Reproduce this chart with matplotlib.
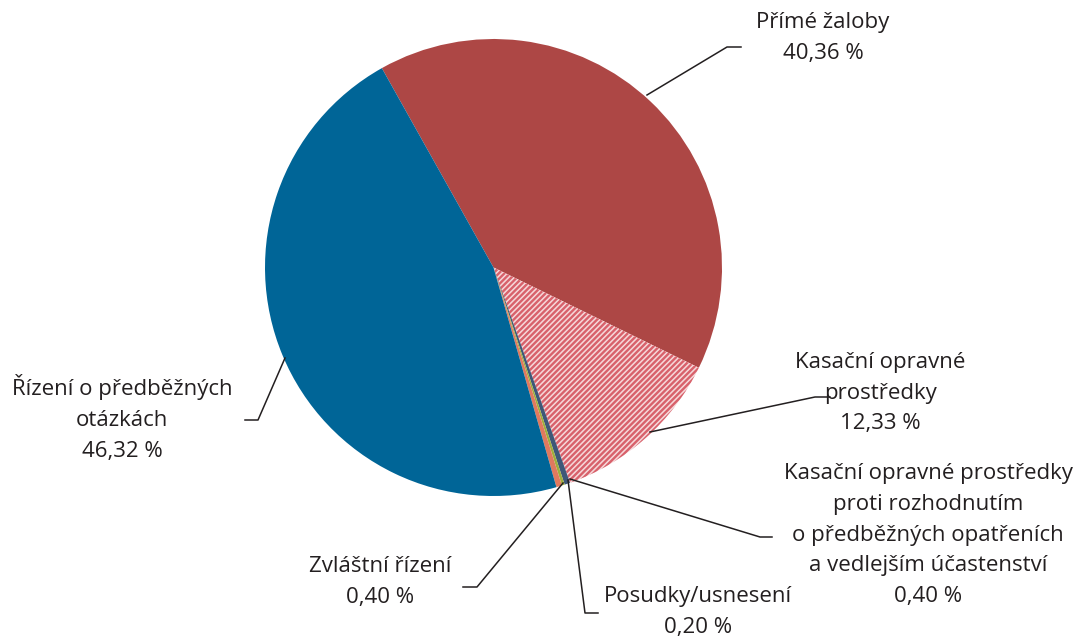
import matplotlib
matplotlib.use("Agg")
import matplotlib.pyplot as plt

plt.rcParams['font.family'] = ['Open Sans', 'DejaVu Sans']
plt.rcParams['hatch.linewidth'] = 1.7

# data
labels = ["Přímé žaloby", "Kasační opravné\nprostředky",
          "Kasační opravné prostředky\nproti rozhodnutím\no předběžných opatřeních\na vedlejším účastenství",
          "Posudky/usnesení", "Zvláštní řízení", "Řízení o předběžných\notázkách"]
values = [40.36, 12.33, 0.40, 0.20, 0.40, 46.32]
colors = ["#ad4745", "#f6d8da", "#3e5878", "#9fae3c", "#e0795e", "#006597"]

# label placement in pixel coords (y from top), and leader line points
label_pos = [(823, 38), (880, 393), (928, 535), (698, 612), (380, 582), (122, 418)]
leaders = [
    [(647, 95), (727, 47), (741, 47)],
    [(650, 432), (815, 397), (830, 397)],
    [(570, 479), (760, 537), (772, 537)],
    [(568, 480), (585, 613), (598, 613)],
    [(563, 483), (477, 587), (463, 587)],
    [(285, 358), (258, 420), (245, 420)],
]

W, H = 1077, 636
fig = plt.figure(figsize=(W / 100, H / 100), dpi=100)
ax = fig.add_axes([0, 0, 1, 1])

wedges, _ = ax.pie(values, colors=colors, startangle=119.25, counterclock=False,
                   center=(493.5, H - 267.5), radius=228.5,
                   wedgeprops=dict(linewidth=0))
wedges[1].set_hatch("//////")
wedges[1].set_edgecolor("#d8616b")
wedges[1].set_linewidth(0)

ax.set_xlim(0, W)
ax.set_ylim(0, H)
ax.set_aspect("equal")
ax.axis("off")

txt = "#231f20"
for lab, v, (x, y), pts in zip(labels, values, label_pos, leaders):
    s = lab + "\n" + f"{v:.2f}".replace(".", ",") + " %"
    ax.text(x, H - y, s, ha="center", va="center", fontsize=16,
            color=txt, linespacing=1.6)
    ax.plot([p[0] for p in pts], [H - p[1] for p in pts], color=txt, lw=1.1)

fig.savefig("out.png", dpi=100)
